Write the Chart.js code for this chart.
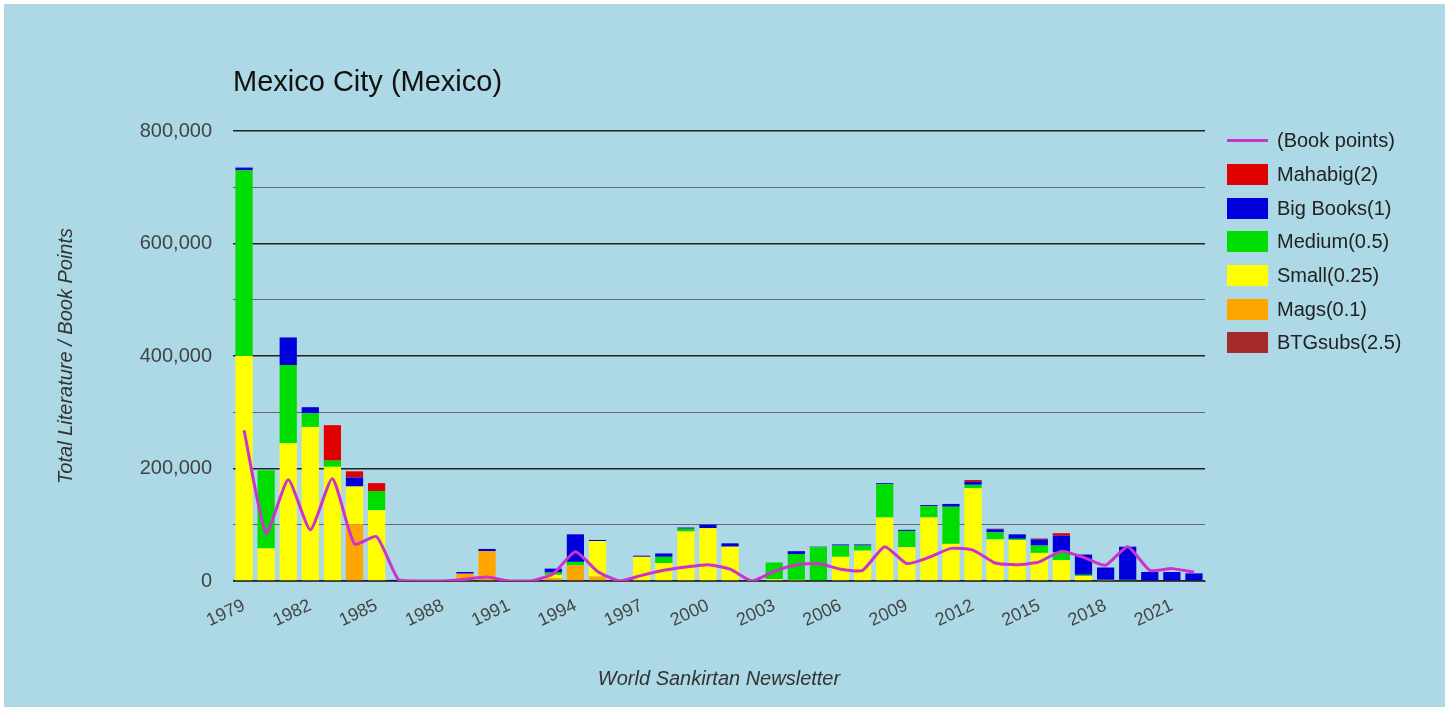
<!DOCTYPE html>
<html>
<head>
<meta charset="utf-8">
<script src="https://cdn.jsdelivr.net/npm/chart.js@4.4.1/dist/chart.umd.min.js"></script>
<style>
    body { margin: 0; background: #ffffff; font-family: "Liberation Sans", Arial, sans-serif; }
    #panel { position: absolute; left: 4px; top: 4px; width: 1441px; height: 703px; background: #add8e6; }
    #panel canvas { position: absolute; left: 0; top: 0; }
    #title { position: absolute; left: 229px; top: 61px; font-size: 29px; color: #111; }
    #legend { position: absolute; left: 1223px; top: 120px; }
    .item { height: 33.7px; display: flex; align-items: center; font-size: 20px; color: #222; }
    .swatch { width: 41px; height: 21px; margin-right: 9px; flex: none; }
    .swatch.line { height: 3px; }
</style>
</head>
<body>
<div id="panel">
    <canvas id="chart" width="1441" height="703"></canvas>
    <div id="title">Mexico City (Mexico)</div>
    <div id="legend"></div>
</div>
<script>
const years = ['1979','1980','1981','1982','1983','1984','1985','1986','1987','1988',
    '1989','1990','1991','1992','1993','1994','1995','1996','1997','1998',
    '1999','2000','2001','2002','2003','2004','2005','2006','2007','2008',
    '2009','2010','2011','2012','2013','2014','2015','2016','2017','2018',
    '2019','2020','2021','2022'];

const mahabig = [0,0,0,0,63000,11000,14000,0,0,0, 0,0,0,0,0,0,0,0,0,0,
    0,0,0,0,0,0,0,0,0,0, 0,0,0,3000,1000,0,1500,4500,0,0, 0,0,0,0];
const bigBooks = [5000,0,49000,11000,0,16000,0,2000,0,0, 3000,4000,0,0,7000,49000,2000,0,2000,6000,
    2000,6000,6000,0,0,5000,1000,2000,2000,2000, 2000,2000,5000,5500,5500,8000,11000,29500,36000,22000,
    59000,16000,16000,13600];
const medium = [330000,139000,139000,24000,11000,0,34000,0,0,0, 0,0,0,0,4000,6000,0,0,0,11000,
    5000,0,0,0,30000,46000,60000,20000,9000,59000, 29000,20000,66000,6000,12500,2000,13000,14000,2000,0,
    2000,0,0,0];
const small = [400000,58000,245000,274000,203000,67000,126000,0,0,0, 0,0,0,0,6000,0,63000,0,43000,32000,
    88000,94000,61000,0,3000,2000,0,43000,54000,113000, 60000,113000,66000,165000,74000,73000,50000,37000,9000,2000,
    0,0,0,0];
const mags = [0,0,0,0,0,101000,0,0,0,0, 13000,53000,0,0,5000,28000,8000,0,0,0,
    0,0,0,0,0,0,0,0,0,0, 0,0,0,0,0,0,0,0,0,0, 0,0,0,0];
const btgSubs = [0,0,0,0,0,0,0,0,0,0, 0,0,0,0,0,0,0,0,0,0,
    0,0,0,0,0,0,0,0,0,0, 0,0,0,0,0,0,0,0,0,0, 0,0,0,0];
const bookPoints = [268000,85000,180000,91000,182000,66000,79000,2000,0,0,
    3000,7000,0,0,13000,52000,17000,0,10000,19000,
    25000,29000,21000,0,17000,29000,31000,21000,19000,61000,
    31000,42000,58000,55000,32000,29000,34000,53000,42000,28000,
    61000,19000,22000,16000];

const yTicks = [0, 200000, 400000, 600000, 800000];

// legend order, top to bottom
const series = [
    { label: 'Mahabig(2)', data: mahabig, color: '#e00000' },
    { label: 'Big Books(1)', data: bigBooks, color: '#0000dd' },
    { label: 'Medium(0.5)', data: medium, color: '#00dd00' },
    { label: 'Small(0.25)', data: small, color: '#ffff00' },
    { label: 'Mags(0.1)', data: mags, color: '#ffa500' },
    { label: 'BTGsubs(2.5)', data: btgSubs, color: '#a52a2a' }
];
const lineColor = '#cc33cc';

const datasets = [{
    type: 'line',
    label: '(Book points)',
    data: bookPoints,
    borderColor: lineColor,
    borderWidth: 3,
    pointRadius: 0,
    tension: 0.18,
    stack: 'points'
}];
// stack bottom first
series.slice().reverse().forEach(s => {
    datasets.push({
        type: 'bar',
        label: s.label,
        data: s.data,
        backgroundColor: s.color,
        borderWidth: 0,
        stack: 'lit',
        categoryPercentage: 1,
        barPercentage: 0.78
    });
});

const legend = document.getElementById('legend');
legend.innerHTML = `<div class="item"><div class="swatch line" style="background:${lineColor}"></div>(Book points)</div>` +
    series.map(s => `<div class="item"><div class="swatch" style="background:${s.color}"></div>${s.label}</div>`).join('');

const family = '"Liberation Sans", Arial, sans-serif';
const tickFont = { family, size: 20 };
const titleFont = { family, size: 20, style: 'italic' };

new Chart(document.getElementById('chart'), {
    data: { labels: years, datasets },
    options: {
        responsive: false,
        animation: false,
        layout: { padding: { left: 0, right: 240, top: 127, bottom: 0 } },
        plugins: { legend: { display: false }, tooltip: { enabled: false } },
        scales: {
            x: {
                stacked: true,
                grid: { display: false, drawTicks: false },
                border: { color: '#444', width: 1 },
                ticks: {
                    autoSkip: false,
                    minRotation: 25,
                    maxRotation: 25,
                    padding: 14,
                    color: '#444',
                    font: { family, size: 18 },
                    callback: (v, i) => (i % 3 === 0 ? years[i] : '')
                },
                title: {
                    display: true,
                    text: 'World Sankirtan Newsletter',
                    color: '#333',
                    font: titleFont,
                    padding: { top: 0, bottom: 16 }
                },
                afterFit: s => { s.height = 126; }
            },
            y: {
                stacked: true,
                min: 0,
                max: 800000,
                grid: {
                    drawTicks: false,
                    color: c => (c.tick && c.tick.value % 200000 === 0 ? '#222' : '#666'),
                    lineWidth: c => (c.tick && c.tick.value % 200000 === 0 ? 1.5 : 1)
                },
                border: { display: false },
                ticks: {
                    stepSize: 100000,
                    padding: 21,
                    color: '#444',
                    font: tickFont,
                    callback: v => (yTicks.includes(v) ? v.toLocaleString('en-US') : '')
                },
                title: {
                    display: true,
                    text: 'Total Literature / Book Points',
                    color: '#333',
                    font: titleFont,
                    padding: { top: 50, bottom: 0 }
                },
                afterFit: s => { s.width = 229; }
            }
        }
    }
});
</script>
</body>
</html>
